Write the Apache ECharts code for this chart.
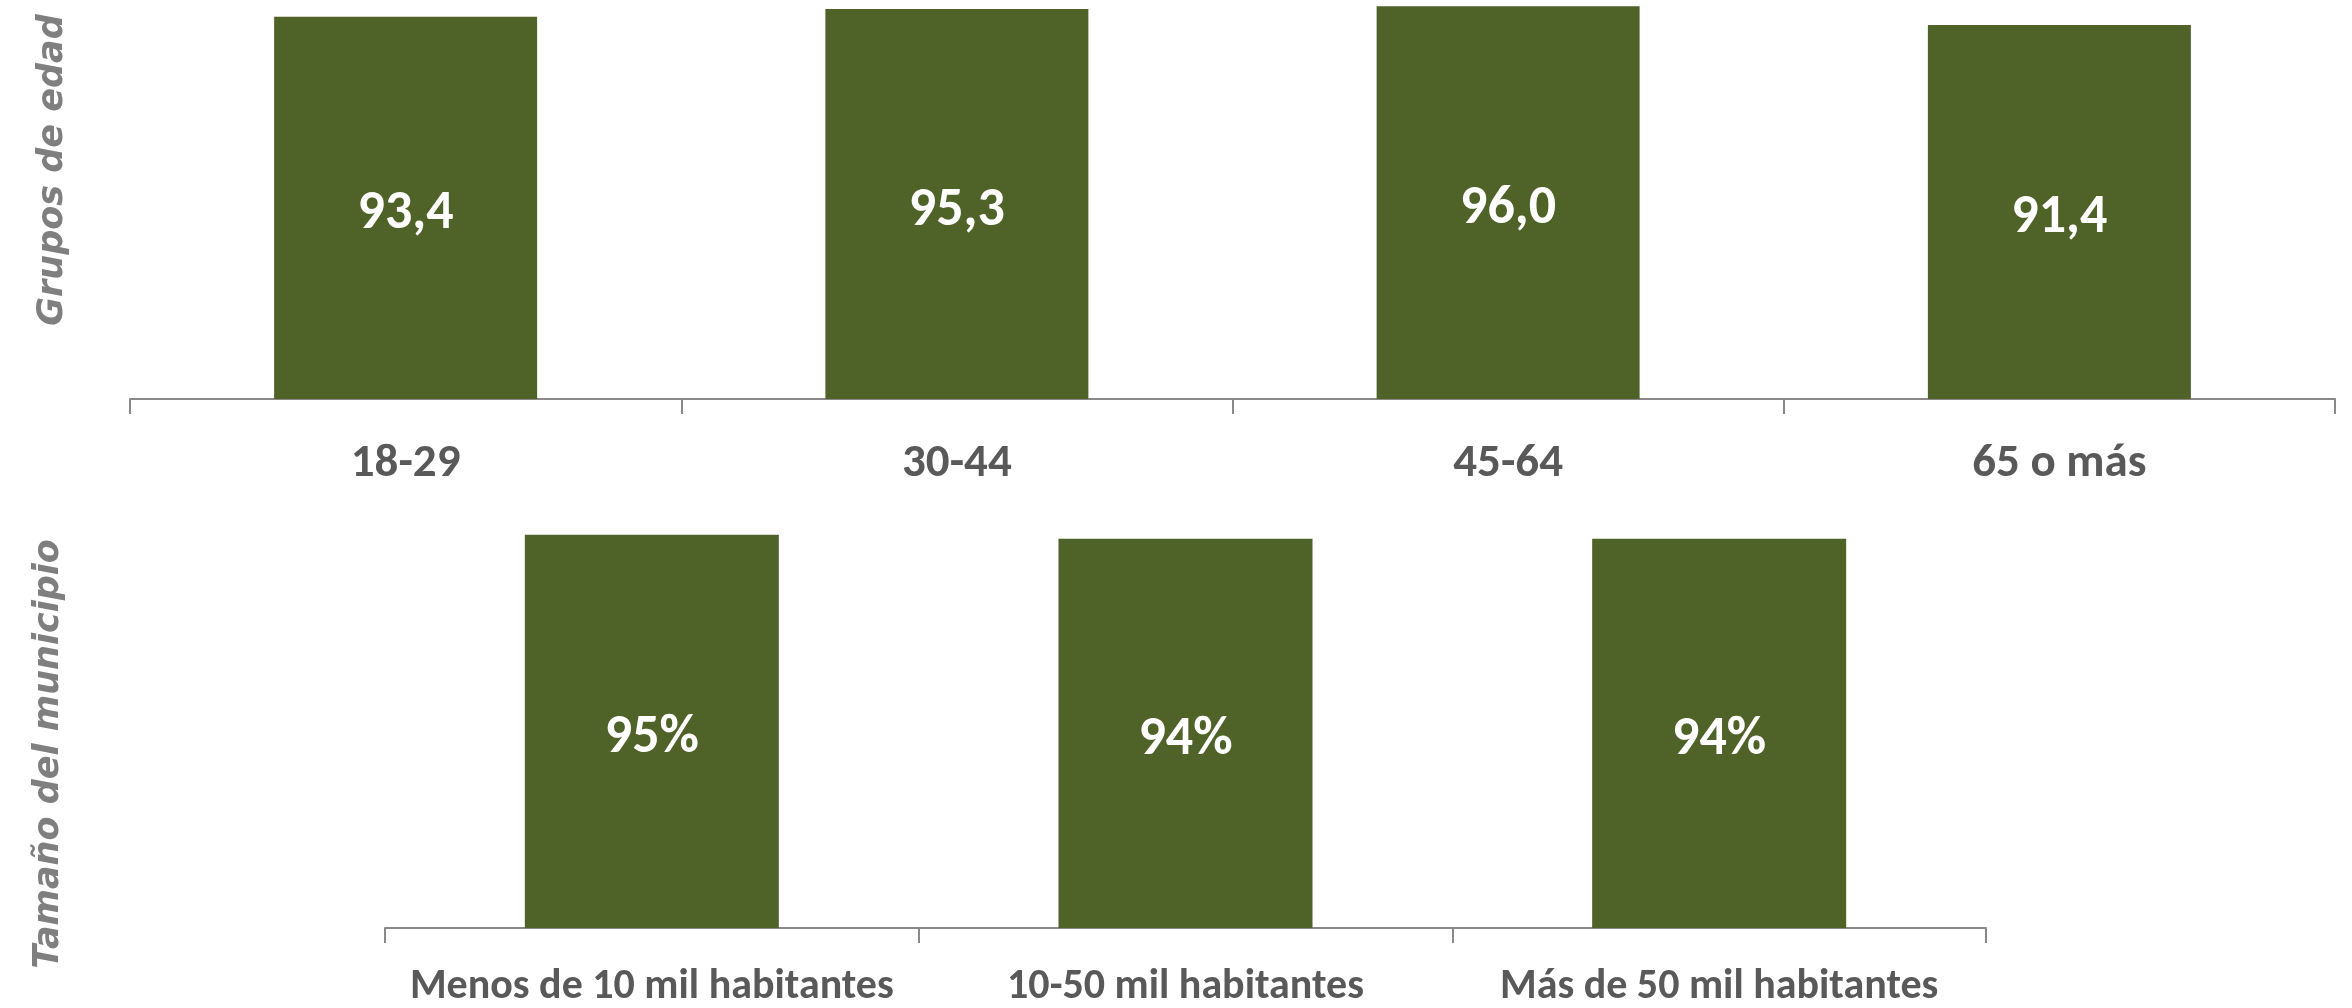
<!DOCTYPE html>
<html>
<head>
<meta charset="utf-8">
<script src="https://cdn.jsdelivr.net/npm/echarts@6/dist/echarts.min.js"></script>
<style>
  html, body { margin: 0; padding: 0; background: #fff; }
  #container { width: 2352px; height: 1008px; }
</style>
</head>
<body>
<div id="container"></div>
<script>
// datos
var edadCats = ['18-29', '30-44', '45-64', '65 o más'];
var edadVals = [93.4, 95.3, 96.0, 91.4];
var muniCats = ['Menos de 10 mil habitantes', '10-50 mil habitantes', 'Más de 50 mil habitantes'];
var muniVals = [95, 94, 94];

var verde = '#4f6228';
var gris = '#595959';
var ejeColor = '#898989';
var fuente = "Carlito, 'Liberation Sans Narrow', 'Open Sans', sans-serif";

var dom = document.getElementById('container');
var myChart = echarts.init(dom);

var ejeX = function (idx, cats, tam, margen) {
    return {
        type: 'category',
        gridIndex: idx,
        data: cats,
        axisLine: { lineStyle: { color: ejeColor, width: 2 } },
        axisTick: { show: true, interval: 0, length: 15, lineStyle: { color: ejeColor, width: 2 } },
        axisLabel: { interval: 0, color: gris, fontFamily: fuente, fontWeight: 'bold', fontSize: tam, margin: margen }
    };
};

var option = {
    animation: false,
    grid: [
        { left: 130, right: 17, top: 0, bottom: 609 },
        { left: 385, right: 366, top: 514, bottom: 75 }
    ],
    xAxis: [ejeX(0, edadCats, 47, 42), ejeX(1, muniCats, 42, 38)],
    yAxis: [
        { type: 'value', gridIndex: 0, min: 0, max: 97.5, show: false },
        { type: 'value', gridIndex: 1, min: 0, max: 100, show: false }
    ],
    graphic: [
        {
            type: 'text', x: 53, y: 170, rotation: Math.PI / 2,
            style: {
                text: 'Grupos de edad', fill: '#7f7f7f',
                font: "italic bold 35px 'DejaVu Sans'",
                textAlign: 'center', textVerticalAlign: 'middle'
            }
        },
        {
            type: 'text', x: 49, y: 754, rotation: Math.PI / 2,
            style: {
                text: 'Tamaño del municipio', fill: '#7f7f7f',
                font: "italic bold 35px 'DejaVu Sans'",
                textAlign: 'center', textVerticalAlign: 'middle'
            }
        }
    ],
    series: [
        {
            name: 'Grupos de edad',
            type: 'bar',
            xAxisIndex: 0, yAxisIndex: 0,
            data: edadVals,
            barWidth: 263,
            itemStyle: { color: verde },
            label: {
                show: true, position: 'inside', offset: [0, 7], color: '#fff',
                fontFamily: fuente, fontWeight: 'bold', fontSize: 54,
                formatter: function (p) { return p.value.toFixed(1).replace('.', ','); }
            }
        },
        {
            name: 'Tamaño del municipio',
            type: 'bar',
            xAxisIndex: 1, yAxisIndex: 1,
            data: muniVals,
            barWidth: 254,
            itemStyle: { color: verde },
            label: {
                show: true, position: 'inside', offset: [0, 7], color: '#fff',
                fontFamily: fuente, fontWeight: 'bold', fontSize: 54,
                formatter: function (p) { return p.value + '%'; }
            }
        }
    ]
};

if (option && typeof option === "object") {
    myChart.setOption(option, true);
}
</script>
</body>
</html>
